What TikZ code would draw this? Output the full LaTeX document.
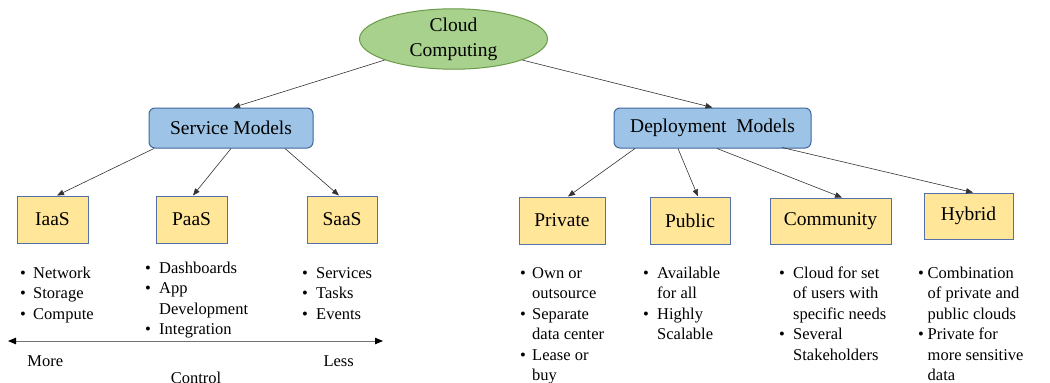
\documentclass[tikz,border=0pt]{standalone}
\usepackage{fontspec}
\setmainfont{Liberation Serif}
\newfontfamily\tms{Liberation Serif}
\usetikzlibrary{shapes.geometric,arrows.meta}
\definecolor{elfill}{HTML}{A9D18E}
\definecolor{eldraw}{HTML}{6B9A4A}
\definecolor{bluefill}{HTML}{9DC3E6}
\definecolor{bluedraw}{HTML}{41679E}
\definecolor{yelfill}{HTML}{FFE699}
\definecolor{yeldraw}{HTML}{5671A8}
\newcommand{\bu}[1][13]{\makebox[#1pt][l]{\textbullet}}
\begin{document}
\begin{tikzpicture}[x=1pt,y=-1pt,
  boxfont/.style={font=\tms\fontsize{19.5}{25}\selectfont},
  listfont/.style={font=\tms\fontsize{16.5}{20.5}\selectfont},
  rootnode/.style={ellipse,draw=eldraw,fill=elfill,line width=1pt,minimum width=188pt,minimum height=58pt,inner sep=0pt,align=center,boxfont},
  modelbox/.style={rectangle,rounded corners=6pt,draw=bluedraw,fill=bluefill,line width=1pt,minimum height=40pt,inner sep=0pt,boxfont},
  leafbox/.style={rectangle,draw=yeldraw,fill=yelfill,line width=1pt,minimum height=47pt,inner sep=0pt,boxfont},
  listnode/.style={inner sep=0pt,anchor=base west,listfont},
  plain/.style={inner sep=0pt,anchor=base,listfont},
  conn/.style={draw=black!80,line width=0.6pt,-{Triangle[length=7pt,width=5.5pt]}},
  ctrl/.style={draw=black!55,line width=1pt,{Triangle[length=8pt,width=6.5pt,fill=black,color=black]}-{Triangle[length=8pt,width=6.5pt,fill=black,color=black]}}
]
\useasboundingbox (0,0) rectangle (1050,383);

\node[rootnode] (cc) at (453.5,39) {Cloud\\Computing};
\node[modelbox,minimum width=164pt] (sm) at (231,128) {Service Models};
\node[modelbox,minimum width=197pt] (dm) at (712.5,128) {Deployment\ \ Models};

\node[leafbox,minimum width=71pt] (iaas) at (52.5,219.5) {IaaS};
\node[leafbox,minimum width=71pt] (paas) at (191.5,219.5) {PaaS};
\node[leafbox,minimum width=70pt] (saas) at (342,219.5) {SaaS};

\node[leafbox,minimum width=86pt] (priv) at (562,220.5) {Private};
\node[leafbox,minimum width=80pt] (pub) at (690,220.5) {Public};
\node[leafbox,minimum width=121pt,minimum height=46pt] (comm) at (830.5,221) {Community};
\node[leafbox,minimum width=89pt,minimum height=46pt] (hyb) at (968.5,216) {Hybrid};

\draw[conn] (cc.197.5) -- ([xshift=2pt]sm.north);
\draw[conn] (cc.343.6) -- (dm.north);

\draw[conn] ([xshift=-77pt]sm.south) -- ([xshift=4.5pt]iaas.north);
\draw[conn] (sm.south) -- ([xshift=1.5pt]paas.north);
\draw[conn] ([xshift=54pt]sm.south) -- ([xshift=-3pt]saas.north);

\draw[conn] ([xshift=-77.5pt]dm.south) -- ([xshift=6pt]priv.north);
\draw[conn] ([xshift=-34.5pt]dm.south) -- ([xshift=8pt]pub.north);
\draw[conn] ([xshift=4.5pt]dm.south) -- ([xshift=11.5pt]comm.north);
\draw[conn] ([xshift=69.5pt,yshift=1pt]dm.south) -- ([xshift=4.5pt]hyb.north);

\node[listnode] (liaas) at (20,278) {\begin{tabular}[t]{@{}l@{}l@{}}
\bu & Network\\ \bu & Storage\\ \bu & Compute\end{tabular}};
\node[listnode] (lpaas) at (145,273) {\begin{tabular}[t]{@{}l@{}l@{}}
\bu[14] & Dashboards\\ \bu[14] & App\\ & Development\\ \bu[14] & Integration\end{tabular}};
\node[listnode] (lsaas) at (302,278) {\begin{tabular}[t]{@{}l@{}l@{}}
\bu[14] & Services\\ \bu[14] & Tasks\\ \bu[14] & Events\end{tabular}};

\node[listnode] (lpriv) at (520,278) {\begin{tabular}[t]{@{}l@{}l@{}}
\bu[12] & Own or\\ & outsource\\ \bu[12] & Separate\\ & data center\\ \bu[12] & Lease or\\ & buy\end{tabular}};
\node[listnode] (lpub) at (643,278) {\begin{tabular}[t]{@{}l@{}l@{}}
\bu[14] & Available\\ & for all\\ \bu[14] & Highly\\ & Scalable\end{tabular}};
\node[listnode] (lcomm) at (779,278) {\begin{tabular}[t]{@{}l@{}l@{}}
\bu[14] & Cloud for set\\ & of users with\\ & specific needs\\ \bu[14] & Several\\ & Stakeholders\end{tabular}};
\node[listnode] (lhyb) at (918,278) {\begin{tabular}[t]{@{}l@{}l@{}}
\bu[9.5] & Combination\\ & of private and\\ & public clouds\\ \bu[9.5] & Private for\\ & more sensitive\\ & data\end{tabular}};

\coordinate (cl) at (8,341);
\coordinate (cr) at (383,341);
\draw[ctrl] (cl) -- (cr);
\node[plain] (more) at (45.3,366.7) {More};
\node[plain] (less) at (338.7,366.7) {Less};
\node[plain] (control) at (196,383.5) {Control};
\end{tikzpicture}
\end{document}
